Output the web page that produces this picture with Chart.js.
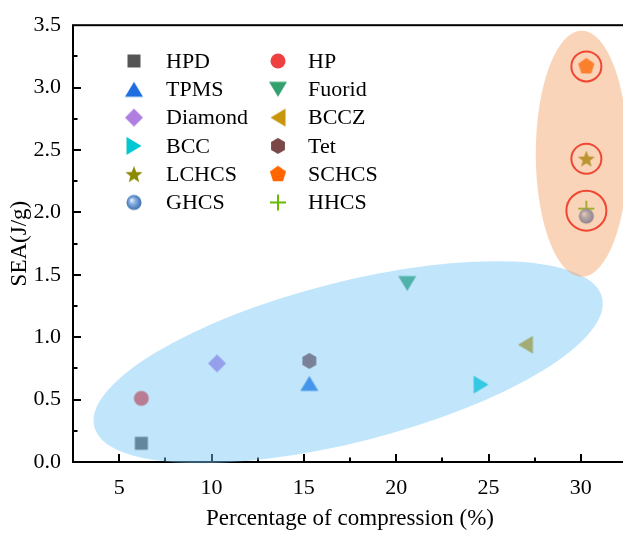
<!DOCTYPE html>
<html>
<head>
<meta charset="utf-8">
<script src="https://cdn.jsdelivr.net/npm/chart.js@4.4.1/dist/chart.umd.min.js"></script>
<style>
    html, body { margin: 0; padding: 0; background: #fff; overflow: hidden; }
    #wrap { width: 680px; height: 534px; }
</style>
</head>
<body>
<div id="wrap"><canvas id="chart" width="680" height="534"></canvas></div>
<script>
// データ
const categories = ['HPD', 'HP', 'TPMS', 'Fuorid', 'Diamond', 'BCCZ', 'BCC', 'Tet', 'LCHCS', 'SCHCS', 'GHCS', 'HHCS'];
const compression = [6.2, 6.2, 15.3, 20.6, 10.3, 27.0, 24.6, 15.3, 30.3, 30.3, 30.3, 30.3];
const sea = [0.15, 0.51, 0.63, 1.43, 0.79, 0.94, 0.62, 0.81, 2.43, 3.17, 1.97, 2.03];
const xTicks = [5, 10, 15, 20, 25, 30];
const yTicks = [0, 0.5, 1.0, 1.5, 2.0, 2.5, 3.0, 3.5];
const highlighted = ['SCHCS', 'LCHCS', 'HHCS'];

const FONT = "'Liberation Serif', 'Times New Roman', serif";

// マーカーの形と色
const markerStyles = {
    HPD:     { shape: 'square',   color: '#555555' },
    HP:      { shape: 'circle',   color: '#ee4040' },
    TPMS:    { shape: 'up',       color: '#1e6ee0' },
    Fuorid:  { shape: 'down',     color: '#33a06e' },
    Diamond: { shape: 'diamond',  color: '#b07ee0' },
    BCCZ:    { shape: 'left',     color: '#c8960a' },
    BCC:     { shape: 'right',    color: '#00c8d2' },
    Tet:     { shape: 'hexagon',  color: '#7a4848' },
    LCHCS:   { shape: 'star',     color: '#8c8a00' },
    SCHCS:   { shape: 'pentagon', color: '#ff6600' },
    GHCS:    { shape: 'sphere',   color: '#5a8fd0' },
    HHCS:    { shape: 'plus',     color: '#66bb00' }
};

// マーカー画像を作る
function makeMarker(shape, color) {
    const s = 22;
    const cv = document.createElement('canvas');
    cv.width = s; cv.height = s;
    const g = cv.getContext('2d');
    const c = s / 2;
    g.fillStyle = color;
    g.strokeStyle = color;
    g.beginPath();
    const poly = (n, r, start) => {
        for (let i = 0; i < n; i++) {
            const a = start + i * 2 * Math.PI / n;
            const px = c + r * Math.cos(a), py = c + r * Math.sin(a);
            i === 0 ? g.moveTo(px, py) : g.lineTo(px, py);
        }
    };
    switch (shape) {
        case 'square': g.rect(c - 6.5, c - 6.5, 13, 13); break;
        case 'circle': g.arc(c, c, 7.5, 0, Math.PI * 2); break;
        case 'up': g.moveTo(c, c - 7.5); g.lineTo(c + 9, c + 7.5); g.lineTo(c - 9, c + 7.5); break;
        case 'down': g.moveTo(c, c + 7.5); g.lineTo(c + 9, c - 7.5); g.lineTo(c - 9, c - 7.5); break;
        case 'left': g.moveTo(c - 7.5, c); g.lineTo(c + 7.5, c - 9); g.lineTo(c + 7.5, c + 9); break;
        case 'right': g.moveTo(c + 7.5, c); g.lineTo(c - 7.5, c - 9); g.lineTo(c - 7.5, c + 9); break;
        case 'diamond': g.moveTo(c, c - 9); g.lineTo(c + 9, c); g.lineTo(c, c + 9); g.lineTo(c - 9, c); break;
        case 'hexagon': poly(6, 8, -Math.PI / 2); break;
        case 'pentagon': poly(5, 8.5, -Math.PI / 2); break;
        case 'star':
            for (let i = 0; i < 10; i++) {
                const r = i % 2 === 0 ? 9 : 3.8;
                const a = -Math.PI / 2 + i * Math.PI / 5;
                const px = c + r * Math.cos(a), py = c + r * Math.sin(a) + 0.8;
                i === 0 ? g.moveTo(px, py) : g.lineTo(px, py);
            }
            break;
        case 'sphere': {
            const grad = g.createRadialGradient(c - 2.5, c - 2.5, 0.5, c, c, 7.5);
            grad.addColorStop(0, '#e6f0fb');
            grad.addColorStop(0.35, '#8cb4e4');
            grad.addColorStop(1, '#3d6fae');
            g.fillStyle = grad;
            g.arc(c, c, 7.5, 0, Math.PI * 2);
            break;
        }
        case 'plus':
            g.lineWidth = 2;
            g.moveTo(c - 8, c); g.lineTo(c + 8, c);
            g.moveTo(c, c - 8); g.lineTo(c, c + 8);
            g.stroke();
            return cv;
    }
    g.closePath();
    g.fill();
    return cv;
}

const markers = {};
categories.forEach(name => {
    markers[name] = makeMarker(markerStyles[name].shape, markerStyles[name].color);
});

// 楕円の領域（中心はデータ座標、半径はピクセル）
const zones = [
    { cx: 17.4, cy: 0.80, rx: 262, ry: 80, rot: -14.3, fill: 'rgba(118,199,248,0.45)' },
    { cx: 30.05, cy: 2.47, rx: 46, ry: 123, rot: 0, fill: 'rgba(244,160,100,0.45)' }
];

// 枠と内向き目盛り
const framePlugin = {
    id: 'frame',
    beforeDatasetsDraw(chart) {
        const { ctx, chartArea: a, scales: { x, y } } = chart;
        ctx.save();
        ctx.strokeStyle = '#000';
        ctx.lineWidth = 2;
        ctx.strokeRect(a.left, a.top, a.right - a.left, a.bottom - a.top);
        ctx.beginPath();
        const xs = xTicks[1] - xTicks[0];
        for (let v = xTicks[0] - xs / 2; v < x.max; v += xs / 2) {
            if (v <= x.min) continue;
            const px = Math.round(x.getPixelForValue(v));
            const len = xTicks.includes(v) ? 8 : 4.5;
            ctx.moveTo(px, a.bottom); ctx.lineTo(px, a.bottom - len);
        }
        const ys = yTicks[1] - yTicks[0];
        for (let v = yTicks[0] + ys / 2; v < y.max; v += ys / 2) {
            const py = Math.round(y.getPixelForValue(v));
            const len = yTicks.some(t => Math.abs(t - v) < 1e-9) ? 8 : 4.5;
            ctx.moveTo(a.left, py); ctx.lineTo(a.left + len, py);
        }
        ctx.stroke();
        ctx.restore();
    },
    afterDatasetsDraw(chart) {
        const { ctx, scales: { x, y } } = chart;
        ctx.save();
        zones.forEach(z => {
            ctx.beginPath();
            ctx.ellipse(x.getPixelForValue(z.cx), y.getPixelForValue(z.cy), z.rx, z.ry, z.rot * Math.PI / 180, 0, Math.PI * 2);
            ctx.fillStyle = z.fill;
            ctx.fill();
        });
        // 強調リング
        ctx.strokeStyle = '#f04632';
        ctx.lineWidth = 2;
        highlighted.forEach(name => {
            const i = categories.indexOf(name);
            const pt = chart.getDatasetMeta(i).data[0];
            const r = name === 'HHCS' ? 20 : 15;
            ctx.beginPath();
            ctx.arc(pt.x, name === 'HHCS' ? pt.y + 2 : pt.y, r, 0, Math.PI * 2);
            ctx.stroke();
        });
        ctx.restore();
    },
    afterDraw(chart) {
        // 凡例（2列）
        const { ctx } = chart;
        ctx.save();
        ctx.font = '22px ' + FONT;
        ctx.fillStyle = '#000';
        ctx.textBaseline = 'middle';
        ctx.textAlign = 'left';
        categories.forEach((name, i) => {
            const col = i % 2, row = Math.floor(i / 2);
            const mx = col === 0 ? 134 : 278;
            const tx = col === 0 ? 166 : 308;
            const my = 61 + row * 28.3;
            ctx.drawImage(markers[name], mx - 11, my - 11);
            ctx.fillText(name, tx, my + 1);
        });
        ctx.restore();
    }
};

const datasets = categories.map((name, i) => ({
    label: name,
    data: [{ x: compression[i], y: sea[i] }],
    pointStyle: markers[name],
    pointRadius: 8,
    pointHoverRadius: 8
}));

new Chart(document.getElementById('chart'), {
    type: 'scatter',
    data: { datasets },
    options: {
        responsive: false,
        animation: false,
        events: [],
        layout: { padding: { top: 19, right: 53, left: 0, bottom: 0 } },
        plugins: {
            legend: { display: false },
            tooltip: { enabled: false }
        },
        scales: {
            x: {
                type: 'linear',
                min: 2.5,
                max: 32.5,
                afterBuildTicks: scale => { scale.ticks = xTicks.map(v => ({ value: v })); },
                afterFit: scale => { scale.height = 72; },
                grid: { display: false, drawTicks: false },
                border: { display: false },
                ticks: { color: '#000', padding: 13, font: { family: FONT, size: 22 } },
                title: {
                    display: true,
                    text: 'Percentage of compression (%)',
                    color: '#000',
                    font: { family: FONT, size: 23 },
                    padding: { top: 0, bottom: 1 }
                }
            },
            y: {
                min: 0,
                max: 3.5,
                afterBuildTicks: scale => { scale.ticks = yTicks.map(v => ({ value: v })); },
                afterFit: scale => { scale.width = 73; },
                grid: { display: false, drawTicks: false },
                border: { display: false },
                ticks: {
                    color: '#000',
                    padding: 12,
                    font: { family: FONT, size: 22 },
                    callback: v => v.toFixed(1)
                },
                title: {
                    display: true,
                    text: 'SEA(J/g)',
                    color: '#000',
                    font: { family: FONT, size: 23 },
                    padding: { top: 6, bottom: 0 }
                }
            }
        }
    },
    plugins: [framePlugin]
});
</script>
</body>
</html>
